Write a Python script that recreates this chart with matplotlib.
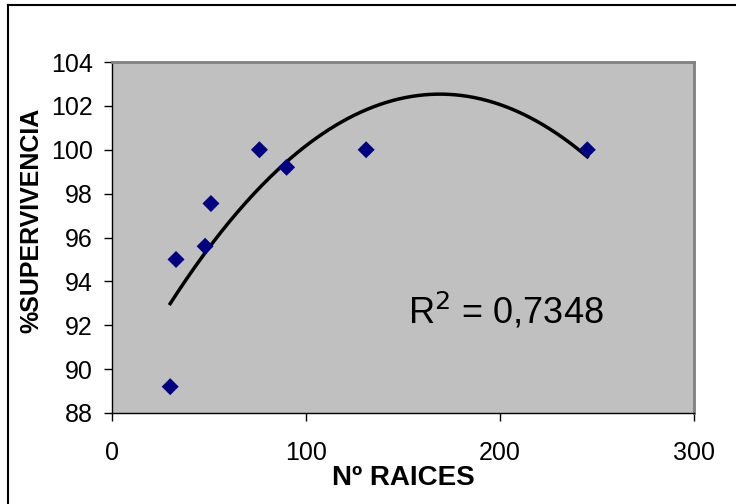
import numpy as np
import matplotlib
matplotlib.use("Agg")
import matplotlib.pyplot as plt
from matplotlib.lines import Line2D

# datos
raices = [30, 33, 48, 51, 76, 90, 131, 245]
supervivencia = [89.2, 95.0, 95.6, 97.55, 100.0, 99.2, 100.0, 100.0]
xticks = [0, 100, 200, 300]
yticks = [88, 90, 92, 94, 96, 98, 100, 102, 104]

plt.rcParams["font.family"] = ["Liberation Sans", "DejaVu Sans"]

fig = plt.figure(figsize=(7.36, 5.04), dpi=100)
ax = fig.add_axes([112 / 736, 1 - 413 / 504, 582 / 736, 351 / 504])
ax.set_facecolor("#C0C0C0")

# línea de tendencia polinómica de orden 2
c = np.polyfit(raices, supervivencia, 2)
xs = np.linspace(min(raices), max(raices), 200)
ax.plot(xs, np.polyval(c, xs), color="black", lw=2.5, zorder=2)
ax.scatter(raices, supervivencia, marker="D", s=75, color="#000080",
           edgecolors="none", zorder=3)

ax.set_xlim(0, 300)
ax.set_ylim(88, 104)
ax.set_xticks(xticks)
ax.set_yticks(yticks)
ax.tick_params(axis="x", direction="out", length=6, width=1, pad=14,
               labelsize=18)
ax.tick_params(axis="y", direction="out", length=6, width=1, pad=8,
               labelsize=18)
for s in ("left", "bottom"):
    ax.spines[s].set_color("black")
    ax.spines[s].set_linewidth(1)
for s in ("top", "right"):
    ax.spines[s].set_color("#808080")
    ax.spines[s].set_linewidth(2)

ax.set_xlabel("Nº RAICES", fontsize=20, fontweight="bold", labelpad=0)
ax.set_ylabel("%SUPERVIVENCIA", fontsize=18, fontweight="bold")
ax.yaxis.set_label_coords(-0.118, 0.55)

ax.text(152.5, 92.06, "R$^2$ = 0,7348", fontsize=26, ha="left",
        va="baseline")

# marco del gráfico (solo se ve arriba e izquierda)
fig.add_artist(Line2D([8 / 736, 8 / 736], [0, 1 - 5 / 504],
                      transform=fig.transFigure, color="black", lw=1.5))
fig.add_artist(Line2D([8 / 736, 1], [1 - 5 / 504, 1 - 5 / 504],
                      transform=fig.transFigure, color="black", lw=1.5))

fig.savefig("out.png", dpi=100)
